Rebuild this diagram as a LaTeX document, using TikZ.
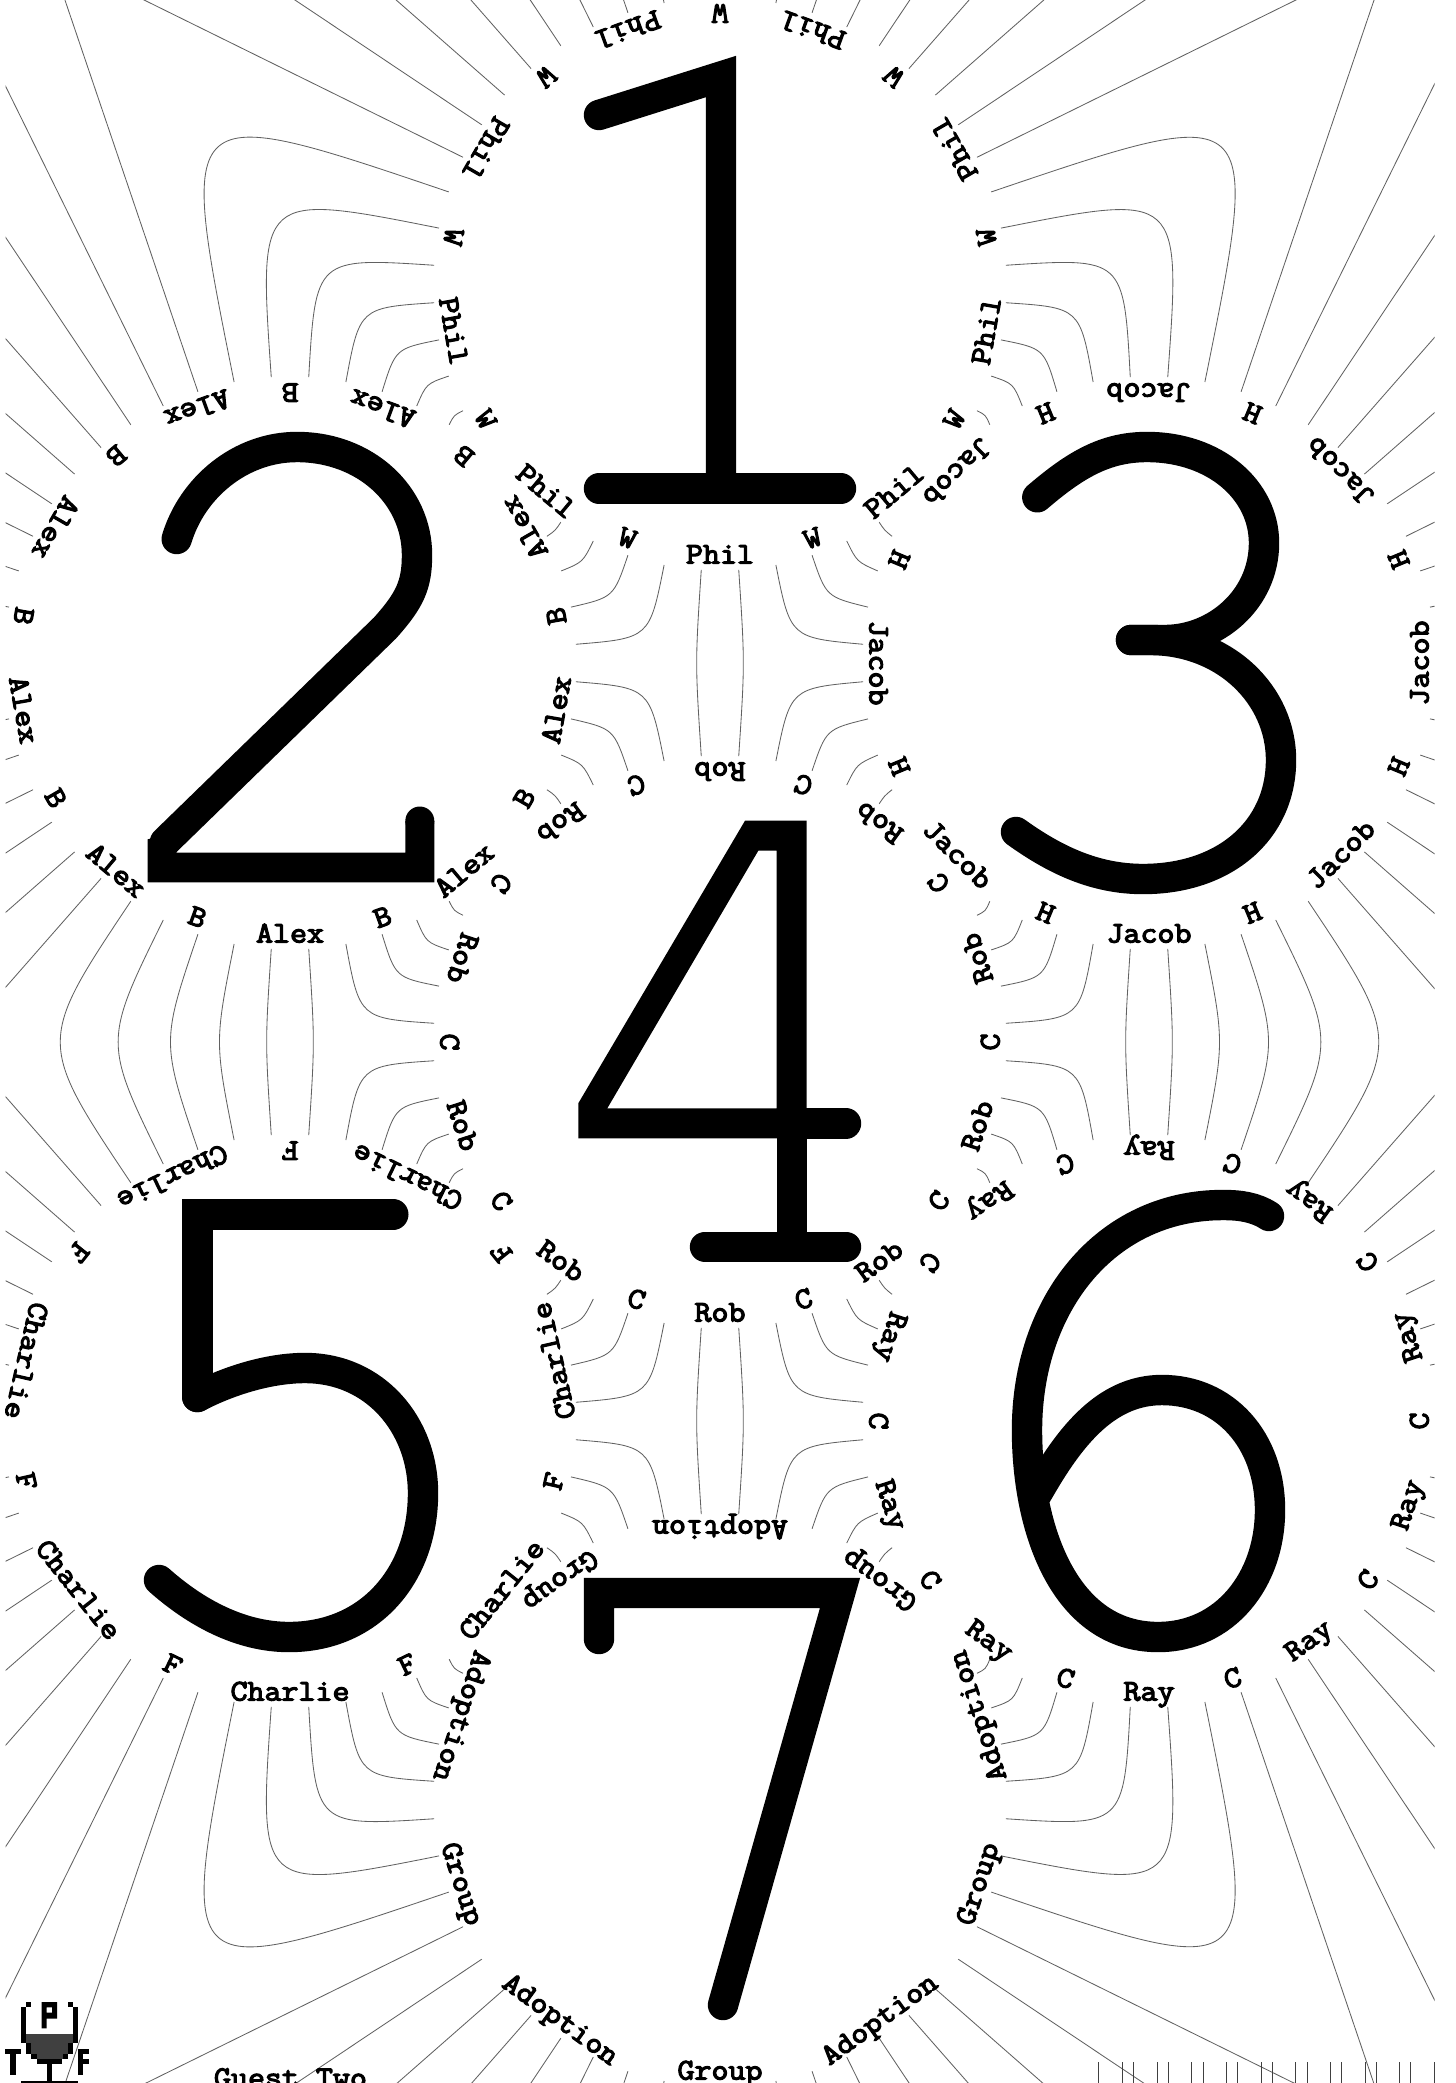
\documentclass[tikz,border=0pt]{standalone}
\usepackage{fontspec}
\newfontfamily\labfont[FakeBold=4,FakeStretch=1.1]{Latin Modern Mono}
\def\Rr{286.5}
\def\Lr{279.5}
\def\cxlist{{720,290,1149,720,290,1149,720}}
\def\cylist{{284,663,663,1042,1421,1421,1800}}
\tikzset{
  conn/.style={line width=0.42pt,draw=black!62},
  lab/.style={font=\fontsize{15}{16}\selectfont\labfont,inner sep=0pt,anchor=base},
  bigtxt/.style={font=\fontsize{15}{17}\selectfont\labfont,inner sep=0pt,anchor=base},
  dig/.style={line width=15.2pt,draw=black,line cap=round,line join=miter,miter limit=12},
  tick/.style={line width=0.45pt,draw=black!75},
  px/.style={fill=black},
}
% link ring a at angle phi a to ring b at angle phi b; both controls on the crossing of the radii
\newcommand{\pairlink}[4]{%
  \pgfmathsetmacro\dxv{\cxlist[#3-1]-\cxlist[#1-1]}%
  \pgfmathsetmacro\dyv{\cylist[#3-1]-\cylist[#1-1]}%
  \pgfmathsetmacro\dofs{(#2-(#4)+180)/2}%
  \pgfmathsetmacro\Lv{0.5*veclen(\dxv,\dyv)/abs(cos(\dofs))}%
  \pgfmathsetmacro\ang{#2}%
  \pgfmathsetmacro\angb{#4}%
  \coordinate (pp) at ([shift={({\Rr*sin(\ang)},{\Rr*cos(\ang)})}]c#1);
  \coordinate (qq) at ([shift={({\Rr*sin(\angb)},{\Rr*cos(\angb)})}]c#3);
  \coordinate (xx) at ([shift={({\Lv*sin(\ang)},{\Lv*cos(\ang)})}]c#1);
  \draw[conn] (pp) .. controls (xx) and (xx) .. (qq);
}
\newcommand{\radial}[2]{%
  \pgfmathsetmacro\ang{#2}%
  \coordinate (pp) at ([shift={({\Rr*sin(\ang)},{\Rr*cos(\ang)})}]c#1);
  \coordinate (qq) at ([shift={({2000*sin(\ang)},{2000*cos(\ang)})}]c#1);
  \draw[conn] (pp) -- (qq);
}
\newcommand{\ringlabels}[4]{%
  \pgfmathtruncatemacro\lastk{#2-1}%
  \foreach \k in {0,...,\lastk}{%
    \pgfmathsetmacro\ph{\k*360/#2}%
    \pgfmathtruncatemacro\oddk{mod(\k,2)}%
    \ifnum\oddk=0 \def\labtxt{#3}\else\def\labtxt{#4}\fi
    \node[lab,rotate=\ph] (lab#1-\k) at ([shift={({\Lr*sin(\ph)},{\Lr*cos(\ph)})}]c#1) {\labtxt};
  }%
}
\begin{document}
\begin{tikzpicture}[x=0.5pt,y=-0.5pt]
\useasboundingbox (0,0) rectangle (1456,2083);
\fill[white] (0,0) rectangle (1456,2083);
\coordinate (c1) at (720,284);
\coordinate (c2) at (290,663);
\coordinate (c3) at (1149,663);
\coordinate (c4) at (720,1042);
\coordinate (c5) at (290,1421);
\coordinate (c6) at (1149,1421);
\coordinate (c7) at (720,1800);

\begin{scope}
\clip (5.5,-5) rectangle (1434.6,2090);
% vertical neighbours
\foreach \s in {1,-1}{
  \pairlink{1}{\s*3.75}{4}{180-\s*3.75}
  \pairlink{4}{\s*3.75}{7}{180-\s*3.75}
}
\pairlink{2}{3.75}{5}{176.25}
\pairlink{3}{-3.75}{6}{183.75}
\foreach \t in {3.75,11.25,18.75,26.25,33.75}{
  \pairlink{2}{-\t}{5}{180+\t}
  \pairlink{3}{\t}{6}{180-\t}
}
% diagonal neighbours
\foreach \d in {15,22.5,30,37.5}{
  \pairlink{1}{48.75-\d}{3}{228.75+\d}
  \pairlink{1}{-48.75+\d}{2}{-228.75-\d}
  \pairlink{4}{131.25+\d}{3}{-48.75-\d}
  \pairlink{4}{131.25-\d}{3}{-48.75+\d}
  \pairlink{4}{-131.25-\d}{2}{48.75+\d}
  \pairlink{4}{-131.25+\d}{2}{48.75-\d}
  \pairlink{4}{48.75-\d}{6}{228.75+\d}
  \pairlink{4}{48.75+\d}{6}{228.75-\d}
  \pairlink{4}{-48.75+\d}{5}{-228.75-\d}
  \pairlink{4}{-48.75-\d}{5}{-228.75+\d}
  \pairlink{7}{131.25+\d}{6}{-48.75-\d}
  \pairlink{7}{-131.25-\d}{5}{48.75+\d}
}
\foreach \d in {15,22.5,30,37.5,45,52.5,60}{
  \pairlink{1}{48.75+\d}{3}{228.75-\d}
  \pairlink{1}{-48.75-\d}{2}{-228.75+\d}
  \pairlink{7}{131.25-\d}{6}{-48.75+\d}
  \pairlink{7}{-131.25+\d}{5}{48.75-\d}
}
% lines that run off the sheet
\foreach \a in {116.25,123.75,...,244}{\radial{1}{\a}}
\foreach \a in {198.75,206.25,...,319}{\radial{2}{\a}\radial{3}{-\a}}
\foreach \a in {18.75,26.25,...,139}{\radial{5}{-\a}\radial{6}{\a}}
\foreach \a in {-63.75,-56.25,...,64}{\radial{7}{\a}}
\end{scope}

% big digits
\draw[dig] (599,115) -- (721,76.5) -- (721,488);
\draw[dig] (599,488.5) -- (841,488.5);

\draw[dig] (176.7,539) .. controls (192,488) and (240,447) .. (297,447)
  .. controls (365,447) and (417,495) .. (417,555)
  .. controls (417,585) and (410,600) .. (385,628) -- (165,842);
\fill (147.7,839.3) -- (147.7,882.3) -- (434.3,882.3) -- (434.3,821) -- (405.3,821) -- (405.3,852.7) -- (176,852.7) -- (190,828) -- cycle;
\fill (419.8,821) circle[radius=14.5];

\draw[dig] (1037.3,497.3) .. controls (1075,465) and (1105,447) .. (1147,447)
  .. controls (1215,447) and (1264,490) .. (1264,543)
  .. controls (1264,600) and (1215,640) .. (1165,640) -- (1131,640);
\draw[dig] (1131,640) -- (1150,640) .. controls (1225,640) and (1281,695) .. (1281,760)
  .. controls (1281,830) and (1225,879) .. (1143,879)
  .. controls (1095,879) and (1055,860) .. (1016,832);

\fill[even odd rule] (578.3,1138.3) -- (578.3,1103.3) -- (745,820.7) -- (806.7,820.7) -- (806.7,1138.3) -- cycle
  (607.3,1108.3) -- (758.3,850.7) -- (776.7,850.7) -- (776.7,1108.3) -- cycle;
\draw[dig,line cap=butt] (791.7,1130) -- (791.7,1246);
\draw[dig] (705,1246.7) -- (846,1246.7);
\draw[dig] (795,1123.3) -- (846,1123.3);

\draw[dig] (393.3,1214.3) -- (197.3,1214.3) -- (197.3,1397);
\draw[dig] (197.3,1397) .. controls (230,1380) and (270,1368) .. (305,1368)
  .. controls (375,1368) and (423,1425) .. (423,1493)
  .. controls (423,1575) and (370,1637) .. (289,1637)
  .. controls (240,1637) and (195,1612) .. (159,1580);

\draw[dig] (1269,1216) .. controls (1255,1207) and (1240,1205) .. (1223,1205)
  .. controls (1105,1205) and (1027,1305) .. (1027,1430)
  .. controls (1027,1530) and (1065,1637) .. (1158,1637)
  .. controls (1225,1637) and (1270,1580) .. (1270,1510)
  .. controls (1270,1440) and (1225,1390) .. (1162,1390)
  .. controls (1110,1390) and (1075,1430) .. (1045,1480) -- (1035,1497);

\draw[dig] (599,1639) -- (599,1593) -- (840,1593) -- (723,2005);

% ring labels
\ringlabels{1}{18}{Phil}{W}
\ringlabels{2}{18}{Alex}{B}
\ringlabels{3}{16}{Jacob}{H}
\ringlabels{4}{20}{Rob}{C}
\ringlabels{5}{14}{Charlie}{F}
\ringlabels{6}{20}{Ray}{C}
\ringlabels{7}{10}{Group}{Adoption}
\node[bigtxt] (guest) at (290.5,2087) {Guest Two};

% tick marks, bottom right
\foreach \xx in {1098.5,1133.3,1168,1203,1237.3,1272,1307,1341.3,1376,1410.5,1122.6,1157.4,1191.3,1226,1261,1295.8,1330,1365,1399,1434.6}{
  \draw[tick] (\xx,2062) -- (\xx,2083);
}

% logo
\fill[black!75] (26,2033.5) rectangle (73,2054);
\fill[black!75] (31,2054) rectangle (68,2059);
\fill[px] (26,2002) rectangle (31,2007);
\fill[px] (67.7,2002) rectangle (72.7,2007);
\fill[px] (20.7,2007.3) rectangle (25.7,2043.3);
\fill[px] (73.3,2007.3) rectangle (78.3,2043.3);
\fill[px,even odd rule] (41.7,2002) -- (57,2002) -- (57,2018.5) -- (46.7,2018.5) -- (46.7,2028.3) -- (41.7,2028.3) -- cycle (46.7,2007.3) rectangle (52,2012.7);
\fill[px] (26,2043.3) rectangle (31,2054);
\fill[px] (68,2043.3) rectangle (73,2054);
\fill[px] (31.3,2054) rectangle (36.5,2059.3);
\fill[px] (62.7,2054) rectangle (67.7,2059.3);
\fill[px] (36.7,2059.3) rectangle (62.3,2064.3);
\fill[px] (47,2064.3) rectangle (52,2081);
\fill[px] (20.7,2081) rectangle (78.3,2083);
\fill[px] (5,2049.3) rectangle (20.7,2054.3);
\fill[px] (10.3,2054.3) rectangle (15.7,2075);
\fill[px] (78.3,2049.3) rectangle (83.3,2075);
\fill[px] (78.3,2049.3) rectangle (89,2054.3);
\fill[px] (83.3,2059.3) rectangle (89,2064.3);
\end{tikzpicture}
\end{document}
